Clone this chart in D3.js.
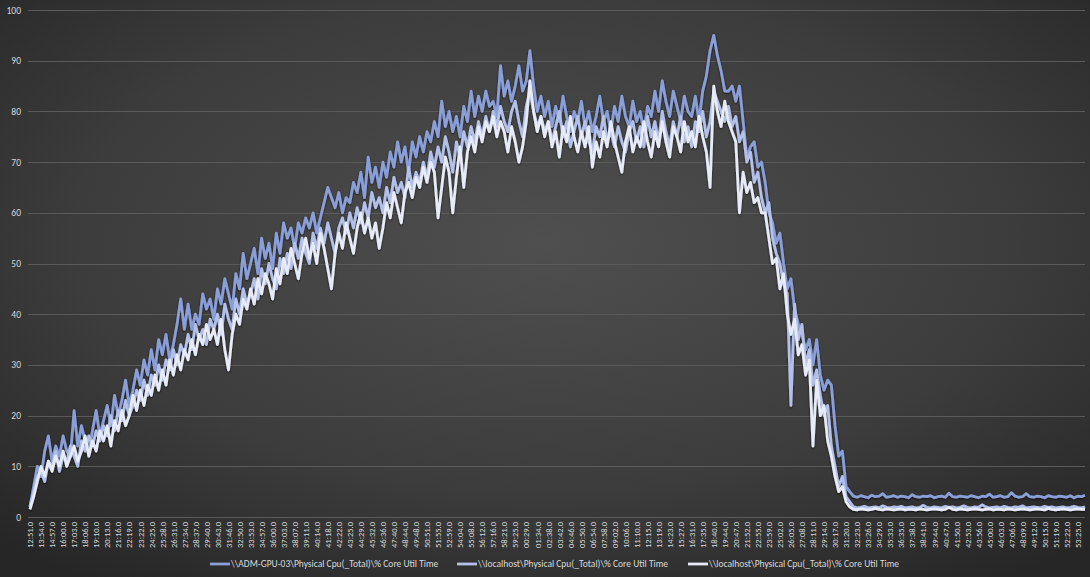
<!DOCTYPE html>
<html>
<head>
<meta charset="utf-8">
<script src="https://cdn.jsdelivr.net/npm/d3@7"></script>
<style>
  html, body { margin: 0; padding: 0; background: #333; }
  svg { display: block; }
  text { font-family: Calibri, Carlito, Lato, "Open Sans", sans-serif; }
</style>
</head>
<body>
<svg id="chart" width="1090" height="577"></svg>
<script>
// ---- Data ----
const tickLabels = [
  "12:51.0","13:54.0","14:57.0","16:00.0","17:03.0","18:06.0","19:10.0","20:13.0","21:16.0","22:19.0",
  "23:22.0","24:25.0","25:28.0","26:31.0","27:34.0","28:37.0","29:40.0","30:43.0","31:46.0","32:50.0",
  "33:53.0","34:57.0","36:00.0","37:03.0","38:07.0","39:11.0","40:14.0","41:18.0","42:22.0","43:25.0",
  "44:29.0","45:32.0","46:36.0","47:40.0","48:44.0","49:48.0","50:51.0","51:55.0","52:59.0","54:04.0",
  "55:08.0","56:12.0","57:16.0","58:21.0","59:25.0","00:29.0","01:34.0","02:38.0","03:42.0","04:46.0",
  "05:50.0","06:54.0","07:58.0","09:02.0","10:06.0","11:10.0","12:15.0","13:19.0","14:23.0","15:27.0",
  "16:31.0","17:35.0","18:40.0","19:44.0","20:47.0","21:52.0","22:55.0","23:59.0","25:02.0","26:05.0",
  "27:08.0","28:11.0","29:14.0","30:17.0","31:20.0","32:23.0","33:26.0","34:29.0","35:33.0","36:35.0",
  "37:38.0","38:41.0","39:44.0","40:47.0","41:50.0","42:53.0","43:56.0","45:00.0","46:03.0","47:06.0",
  "48:09.0","49:12.0","50:15.0","51:19.0","52:22.0","53:25.0"
];
const yTicks = [0,10,20,30,40,50,60,70,80,90,100];
const seriesNames = [
  "\\\\ADM-GPU-03\\Physical Cpu(_Total)\\% Core Util Time",
  "\\\\localhost\\Physical Cpu(_Total)\\% Core Util Time",
  "\\\\localhost\\Physical Cpu(_Total)\\% Core Util Time"
];

const admGpu03 = [
  2, 6, 10, 8, 13, 16, 11, 14, 12, 16,
  13, 12, 21, 14, 18, 15, 13, 17, 21, 16,
  19, 22, 18, 24, 20, 23, 27, 22, 25, 29,
  26, 31, 28, 33, 29, 35, 32, 36, 31, 34,
  38, 43, 37, 42, 37, 40, 38, 44, 41, 43,
  39, 45, 42, 47, 44, 41, 48, 45, 52, 47,
  50, 53, 48, 55, 51, 54, 49, 56, 52, 58,
  55, 57, 53, 58, 56, 59, 57, 60, 56, 59,
  62, 65, 63, 61, 64, 60, 63, 62, 66, 64,
  68, 63, 71, 66, 69, 65, 70, 67, 72, 69,
  74, 70, 73, 68, 74, 71, 75, 72, 76, 74,
  78, 75, 82, 77, 80, 76, 79, 75, 81, 78,
  84, 79, 83, 80, 84, 81, 82, 79, 89, 83,
  86, 82, 85, 89, 84, 86, 92, 85, 80, 83,
  79, 82, 77, 81, 78, 83, 79, 76, 80, 78,
  82, 77, 80, 76, 79, 83, 78, 80, 76, 81,
  78, 83, 79, 77, 82, 78, 80, 76, 81, 79,
  84, 80, 86, 82, 79, 84, 81, 78, 83, 80,
  79, 83, 78, 84, 87, 92, 95, 91, 88, 84,
  84, 85, 82, 85, 78, 71, 73, 74, 69, 70,
  66, 60, 58, 54, 56, 50, 45, 47, 41, 38,
  36, 33, 35, 30, 35, 28, 25, 27, 26, 18,
  12, 13, 6, 5,
  4.1, 3.9, 4.2, 4.0, 3.8, 4.3, 4.0, 4.1, 4.6, 3.9,
  4.0, 4.2, 3.9, 4.1, 4.0, 3.8, 4.4, 4.0, 3.9, 4.1,
  4.0, 4.2, 3.8, 4.0, 4.1, 3.9, 4.7, 4.0, 3.9, 4.1,
  4.0, 3.9, 4.2, 4.0, 3.8, 4.1, 4.0, 4.5, 3.9, 4.0,
  4.2, 3.9, 4.0, 4.8, 4.1, 3.9, 4.0, 4.6, 4.0, 3.9,
  4.1, 4.0, 3.8, 4.2, 4.0, 3.9, 4.1, 4.0, 3.9, 4.2,
  3.8, 4.1, 4.0, 4.3
];

const localhostA = [
  2, 5, 8, 9, 7, 11, 10, 13, 9, 12,
  11, 14, 12, 10, 15, 13, 16, 14, 17, 15,
  18, 16, 20, 17, 21, 19, 23, 20, 22, 25,
  23, 27, 24, 28, 26, 30, 27, 31, 29, 33,
  30, 34, 32, 36, 33, 38, 35, 37, 34, 39,
  37, 40, 36, 42, 39, 37, 43, 40, 45, 42,
  44, 47, 43, 49, 46, 50, 47, 45, 51, 48,
  52, 49, 54, 51, 55, 52, 50, 56, 53, 57,
  54, 58, 55, 52, 57, 59, 56, 60, 57, 61,
  58, 62, 59, 64, 61, 63, 60, 65, 62, 67,
  64, 66, 63, 69, 65, 68, 66, 70, 67, 72,
  69, 73, 70, 75, 72, 68, 74, 71, 76, 73,
  77, 74, 78, 75, 79, 76, 80, 77, 81, 78,
  76, 80, 82, 78, 75, 81, 84, 80, 77, 79,
  76, 78, 74, 77, 80, 75, 78, 73, 76, 79,
  75, 78, 74, 72, 77, 75, 79, 74, 76, 73,
  77, 74, 72, 76, 78, 74, 77, 73, 79, 75,
  78, 74, 80, 76, 73, 78, 75, 79, 74, 77,
  73, 78, 76, 80, 75, 78, 84, 82, 80, 78,
  81, 77, 79, 74, 76, 70, 72, 66, 68, 63,
  60, 62, 55, 52, 50, 46, 44, 22, 42, 35,
  38, 30, 33, 26, 29, 24, 20, 22, 14, 10,
  6, 8, 4, 3,
  2.0, 1.8, 1.9, 2.1, 1.8, 1.9, 2.0, 1.8, 2.2, 1.9,
  1.8, 2.0, 1.9, 2.1, 1.8, 1.9, 2.0, 1.8, 1.9, 2.3,
  1.9, 1.8, 2.0, 1.9, 1.8, 2.1, 1.9, 2.0, 1.8, 1.9,
  2.2, 1.9, 1.8, 2.0, 1.9, 2.4, 2.0, 1.8, 1.9, 2.0,
  1.8, 2.1, 1.9, 1.8, 2.0, 1.9, 2.2, 1.8, 1.9, 2.0,
  1.9, 1.8, 2.1, 1.9, 2.0, 1.8, 1.9, 2.0, 1.8, 1.9,
  2.1, 1.9, 1.8, 2.0
];

const localhostB = [
  1.5, 4, 7, 10, 8, 11, 9, 12, 10, 13,
  10, 12, 14, 11, 13, 16, 12, 15, 13, 17,
  15, 18, 14, 19, 17, 21, 18, 20, 24, 21,
  25, 22, 26, 24, 28, 25, 29, 26, 31, 28,
  32, 29, 33, 31, 35, 32, 36, 34, 38, 35,
  37, 34, 39, 33, 29, 36, 40, 38, 43, 41,
  45, 42, 47, 44, 48, 46, 43, 49, 46, 51,
  48, 53, 50, 47, 52, 55, 51, 54, 50, 56,
  53, 49, 45, 52, 56, 53, 58, 55, 52, 57,
  60, 56, 59, 55, 58, 53, 57, 62, 59, 64,
  61, 58, 64, 66, 63, 67, 65, 69, 66, 70,
  68, 59, 65, 71, 68, 60, 67, 73, 65, 72,
  75, 72, 77, 74, 78, 76, 79, 75, 78, 76,
  72, 77, 74, 70, 73, 78, 86, 80, 76, 79,
  75, 78, 73, 76, 71, 77, 74, 79, 75, 72,
  76, 73, 77, 69, 74, 71, 76, 73, 78, 74,
  71, 68, 74, 77, 72, 75, 73, 78, 74, 71,
  76, 73, 78, 74, 71, 77, 75, 72, 78, 74,
  76, 73, 79, 75, 72, 65, 85, 80, 77, 82,
  78, 76, 74, 60, 68, 64, 66, 62, 63, 60,
  60, 55, 50, 51, 45, 48, 40, 36, 39, 32,
  34, 28, 31, 14, 27, 20, 22, 15, 12, 8,
  5, 6, 3, 2,
  1.5, 1.4, 1.6, 1.5, 1.4, 1.5, 1.7, 1.5, 1.4, 1.6,
  1.5, 1.4, 1.5, 1.6, 1.4, 1.5, 1.5, 1.4, 1.6, 1.5,
  1.4, 1.5, 1.6, 1.5, 1.4, 1.5, 1.9, 1.5, 1.4, 1.6,
  1.5, 1.4, 1.5, 1.6, 1.5, 1.4, 1.5, 1.6, 1.4, 1.5,
  1.5, 1.4, 1.6, 1.5, 1.4, 1.5, 1.6, 1.5, 1.4, 1.5,
  1.6, 1.5, 1.4, 1.7, 1.5, 1.4, 1.5, 1.6, 1.5, 1.4,
  1.5, 1.6, 1.5, 1.5
];

const seriesData = [admGpu03, localhostA, localhostB];
const seriesColors = ["#8a9fd8", "#b3c1ea", "#e6ebf7"];

// ---- Chart ----
const W = 1090, H = 577;
const svg = d3.select("#chart");
const defs = svg.append("defs");

const bg = defs.append("radialGradient").attr("id", "bg")
  .attr("cx", "50%").attr("cy", "42%").attr("r", "72%");
bg.append("stop").attr("offset", "0%").attr("stop-color", "#4f4f4f");
bg.append("stop").attr("offset", "60%").attr("stop-color", "#3c3c3c");
bg.append("stop").attr("offset", "100%").attr("stop-color", "#262626");
svg.append("rect").attr("width", W).attr("height", H).attr("fill", "url(#bg)");

const shadow = defs.append("filter").attr("id", "shadow")
  .attr("x", "-5%").attr("y", "-5%").attr("width", "110%").attr("height", "110%");
shadow.append("feDropShadow").attr("dx", 0).attr("dy", 1).attr("stdDeviation", 1.2)
  .attr("flood-color", "#000").attr("flood-opacity", 0.7);

const nPts = 288;
const x = d3.scaleLinear().domain([0, nPts - 1]).range([30, 1085]);
const y = d3.scaleLinear().domain([0, 100]).range([517, 10]);

// gridlines
svg.append("g")
  .selectAll("line").data(yTicks).join("line")
  .attr("x1", 28).attr("x2", 1085)
  .attr("y1", d => Math.round(y(d)) + 0.5).attr("y2", d => Math.round(y(d)) + 0.5)
  .attr("stroke", "#5a5a5a").attr("stroke-width", 1);

// y axis
const yAxis = d3.axisLeft(y).tickValues(yTicks).tickSize(0).tickPadding(0);
const gy = svg.append("g").attr("transform", "translate(21,0)").call(yAxis);
gy.select(".domain").remove();
gy.selectAll("text").attr("fill", "#d9d9d9").style("font-size", "9.5px")
  .style("font-family", "Calibri, Carlito, Lato, 'Open Sans', sans-serif");

// x axis
const xTickVals = tickLabels.map((_, i) => i * 3);
const xAxis = d3.axisBottom(x).tickValues(xTickVals)
  .tickFormat((d, i) => tickLabels[i]).tickSize(0).tickPadding(0);
const gx = svg.append("g").attr("transform", "translate(0,522)").call(xAxis);
gx.select(".domain").remove();
gx.selectAll("text")
  .attr("fill", "#d9d9d9")
  .style("font-size", "8.5px")
  .style("font-family", "Calibri, Carlito, Lato, 'Open Sans', sans-serif")
  .attr("text-anchor", "end")
  .attr("dy", "0.32em")
  .attr("y", 0)
  .attr("transform", "rotate(-90)");

// lines
const line = d3.line().x((d, i) => x(i)).y(d => y(d)).curve(d3.curveLinear);
svg.append("g").attr("filter", "url(#shadow)")
  .selectAll("path").data(seriesData).join("path")
  .attr("d", d => line(d))
  .attr("fill", "none")
  .attr("stroke", (d, i) => seriesColors[i])
  .attr("stroke-width", 2.8)
  .attr("stroke-linejoin", "round");

// legend
const legendX = [210, 457, 688];
const lg = svg.append("g");
seriesNames.forEach((name, i) => {
  const g = lg.append("g").attr("transform", `translate(${legendX[i]},564)`);
  g.append("line").attr("x1", 0).attr("x2", 20).attr("y1", 0).attr("y2", 0)
    .attr("stroke", seriesColors[i]).attr("stroke-width", 2.8);
  g.append("text").attr("x", 21).attr("y", 0).attr("dy", "0.35em")
    .attr("fill", "#d9d9d9").style("font-size", "9.5px").text(name);
});
</script>
</body>
</html>
